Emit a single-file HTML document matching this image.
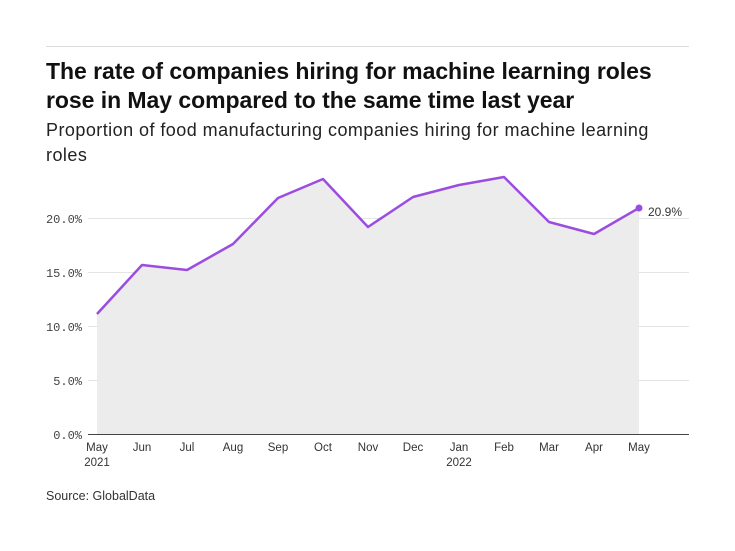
<!DOCTYPE html>
<html><head><style>
body{margin:0;width:735px;height:551px;background:#fff;font-family:"Liberation Sans",sans-serif;overflow:hidden;position:relative}
.t{position:absolute;left:46px;top:57px;font-size:23px;font-weight:bold;color:#111;line-height:29px;letter-spacing:-0.05px}
.s{position:absolute;left:46px;top:118px;font-size:18px;color:#222;line-height:25px;letter-spacing:0.45px}
.src{position:absolute;left:46px;top:489px;font-size:12.5px;color:#333}
</style></head><body>
<div style="position:absolute;left:46px;top:46px;width:643px;height:1px;background:#ddd"></div>
<div class="t">The rate of companies hiring for machine learning roles<br>rose in May compared to the same time last year</div>
<div class="s">Proportion of food manufacturing companies hiring for machine learning<br>roles</div>
<svg width="735" height="551" style="position:absolute;left:0;top:0">
<g stroke="#e4e4e4" stroke-width="1">
<line x1="88" x2="689" y1="218.5" y2="218.5"/><line x1="88" x2="689" y1="272.5" y2="272.5"/>
<line x1="88" x2="689" y1="326.5" y2="326.5"/><line x1="88" x2="689" y1="380.5" y2="380.5"/>
</g>
<polygon fill="#ececec" points="97,314 142,265 187,270 233,244 278,198 323,179 368,227 413,197 459,185 504,177 549,222 594,234 639,208 639,434 97,434"/>
<line x1="88" x2="689" y1="434.5" y2="434.5" stroke="#444"/>
<polyline fill="none" stroke="#9b4de0" stroke-width="2.5" stroke-linejoin="round" points="97,314 142,265 187,270 233,244 278,198 323,179 368,227 413,197 459,185 504,177 549,222 594,234 639,208"/>
<circle cx="639" cy="208" r="3.5" fill="#9b4de0"/>
<g font-family="Liberation Mono,monospace" font-size="12" fill="#444" text-anchor="end">
<text x="82" y="223">20.0%</text><text x="82" y="277">15.0%</text><text x="82" y="331">10.0%</text><text x="82" y="385">5.0%</text><text x="82" y="439">0.0%</text>
</g>
<text x="648" y="216" font-size="12" fill="#333">20.9%</text>
<g font-size="11.5" fill="#333" text-anchor="middle">
<text x="97" y="451">May</text><text x="97" y="466">2021</text><text x="142" y="451">Jun</text><text x="187" y="451">Jul</text><text x="233" y="451">Aug</text><text x="278" y="451">Sep</text><text x="323" y="451">Oct</text><text x="368" y="451">Nov</text><text x="413" y="451">Dec</text><text x="459" y="451">Jan</text><text x="459" y="466">2022</text><text x="504" y="451">Feb</text><text x="549" y="451">Mar</text><text x="594" y="451">Apr</text><text x="639" y="451">May</text>
</g>
</svg>
<div class="src">Source: GlobalData</div>
</body></html>
